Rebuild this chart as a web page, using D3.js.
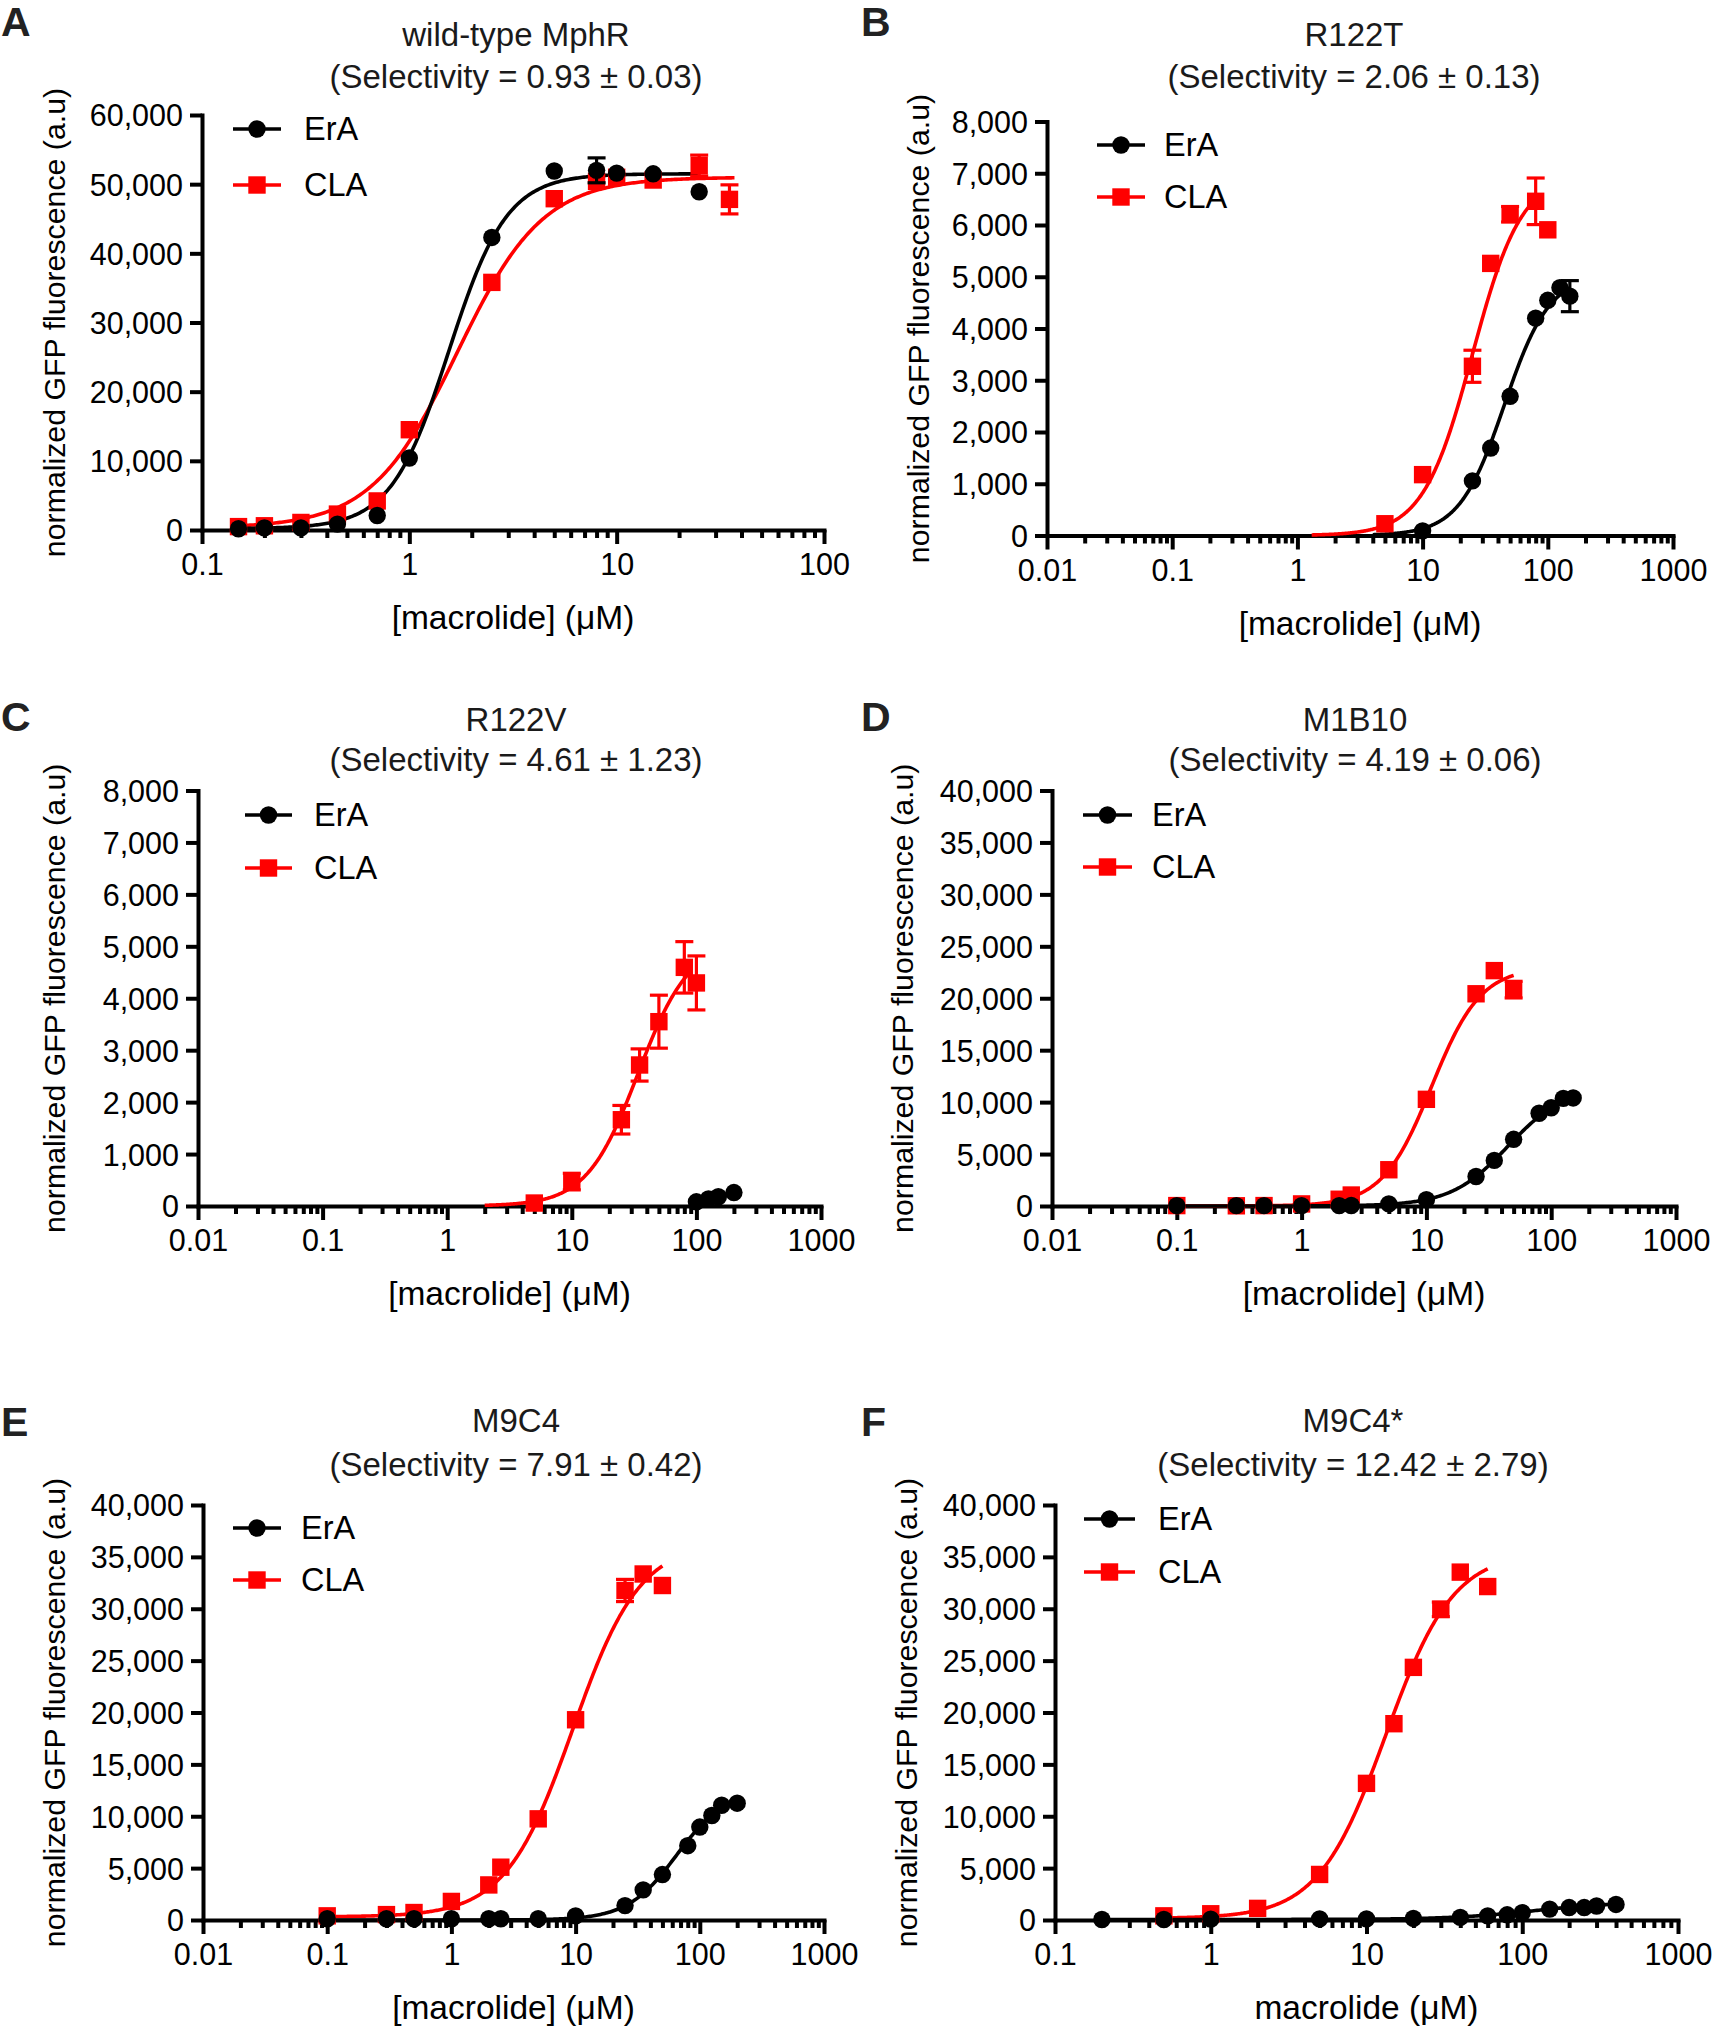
<!DOCTYPE html>
<html><head><meta charset="utf-8">
<script src="https://cdn.jsdelivr.net/npm/d3@7"></script>
<style>
body{margin:0;background:#fff}
svg text{font-family:"Liberation Sans",Arial,Helvetica,sans-serif}
</style></head><body>
<svg id="chart" width="1716" height="2029"></svg>
<script>
// ---------------- DATA ----------------
const panelLetters = ["A","B","C","D","E","F"];
const panelNames = ["wild-type MphR","R122T","R122V","M1B10","M9C4","M9C4*"];
const selectivity = ["(Selectivity = 0.93 ± 0.03)","(Selectivity = 2.06 ± 0.13)","(Selectivity = 4.61 ± 1.23)",
                     "(Selectivity = 4.19 ± 0.06)","(Selectivity = 7.91 ± 0.42)","(Selectivity = 12.42 ± 2.79)"];
const xTitles = ["[macrolide] (μM)","[macrolide] (μM)","[macrolide] (μM)","[macrolide] (μM)","[macrolide] (μM)","macrolide (μM)"];
const yTitle = "normalized GFP fluorescence (a.u)";
const seriesNames = ["ErA","CLA"];

const xTicksA = [0.1,1,10,100],        xTickLabelsA = ["0.1","1","10","100"];
const xTicks5 = [0.01,0.1,1,10,100,1000], xTickLabels5 = ["0.01","0.1","1","10","100","1000"];
const xTicksF = [0.1,1,10,100,1000],   xTickLabelsF = ["0.1","1","10","100","1000"];
const yTicks60k = [0,10000,20000,30000,40000,50000,60000];
const yTicks8k  = [0,1000,2000,3000,4000,5000,6000,7000,8000];
const yTicks40k = [0,5000,10000,15000,20000,25000,30000,35000,40000];

// Panel A – wild-type MphR
const A_ErA_x   = [0.15,0.2,0.3,0.45,0.7,1,2.5,5,8,10,15,25];
const A_ErA_y   = [180,300,300,850,2100,10400,42300,51900,52000,51600,51500,48900];
const A_ErA_err = [0,0,0,0,0,0,0,0,1800,0,0,0];
const A_CLA_x   = [0.15,0.2,0.3,0.45,0.7,1,2.5,5,8,10,15,25,35];
const A_CLA_y   = [490,610,1090,2300,4200,14500,35800,47900,50400,51000,50600,52700,47800];
const A_CLA_err = [0,0,0,0,0,0,0,0,0,0,0,1500,2100];
// fit parameters: [bottom, top, EC50, Hill slope], fit x-range
const A_ErA_fit = [200,51500,1.55,3.1],  A_ErA_range = [0.15,25];
const A_CLA_fit = [300,51000,1.7,2.1],   A_CLA_range = [0.15,37];

// Panel B – R122T
const B_ErA_x   = [10,25,35,50,80,100,125,150];
const B_ErA_y   = [90,1055,1690,2690,4200,4545,4790,4625];
const B_ErA_err = [0,0,0,0,0,0,0,300];
const B_CLA_x   = [5,10,25,35,50,80,100];
const B_CLA_y   = [227,1176,3270,5258,6207,6458,5907];
const B_CLA_err = [0,0,310,0,150,450,0];
const B_ErA_fit = [0,5050,45,2.4],  B_ErA_range = [4,150];
const B_CLA_fit = [0,7000,25,2.2],  B_CLA_range = [1.3,87];

// Panel C – R122V
const C_ErA_x   = [100,125,150,200];
const C_ErA_y   = [81,138,178,259];
const C_ErA_err = [0,0,0,0];
const C_CLA_x   = [5,10,25,35,50,80,100];
const C_CLA_y   = [57,470,1661,2715,3549,4595,4295];
const C_CLA_err = [0,160,275,310,510,495,520];
const C_ErA_fit = [0,5000,1000,1.8], C_ErA_range = [95,200];
const C_CLA_fit = [0,5100,34,2.1],   C_CLA_range = [2,90];

// Panel D – M1B10
const D_ErA_x   = [0.1,0.3,0.5,1,2,2.5,5,10,25,35,50,80,100,125,150];
const D_ErA_y   = [40,40,40,40,40,50,200,600,2840,4390,6420,8930,9460,10360,10400];
const D_ErA_err = [0,0,0,0,0,0,0,0,0,0,0,0,0,0,0];
const D_CLA_x   = [0.1,0.3,0.5,1,2,2.5,5,10,25,35,50];
const D_CLA_y   = [40,20,40,200,650,1056,3490,10270,20430,22660,20830];
const D_CLA_err = [0,0,0,0,0,0,0,0,0,0,800];
const D_ErA_fit = [0,11500,45,1.9],  D_ErA_range = [0.1,150];
const D_CLA_fit = [0,23000,11,2.2],  D_CLA_range = [0.1,50];

// Panel E – M9C4
const E_ErA_x   = [0.1,0.3,0.5,1,2,2.5,5,10,25,35,50,80,100,125,150,200];
const E_ErA_y   = [120,120,120,120,120,120,120,400,1390,2900,4380,7160,8960,10070,11060,11260];
const E_ErA_err = [0,0,0,0,0,0,0,0,0,0,0,0,0,0,0,0];
const E_CLA_x   = [0.1,0.3,0.5,1,2,2.5,5,10,25,35,50];
const E_CLA_y   = [400,520,720,1790,3380,5090,9750,19300,31760,33350,32240];
const E_CLA_err = [0,0,0,0,0,0,0,0,1070,0,0];
const E_ErA_fit = [0,12500,65,2.2],   E_ErA_range = [0.1,200];
const E_CLA_fit = [300,36500,9.5,1.6], E_CLA_range = [0.1,50];

// Panel F – M9C4*
const F_ErA_x   = [0.2,0.5,1,5,10,20,40,60,80,100,150,200,250,300,400];
const F_ErA_y   = [50,50,80,100,100,150,250,400,500,700,1050,1200,1200,1350,1500];
const F_ErA_err = [0,0,0,0,0,0,0,0,0,0,0,0,0,0,0];
const F_CLA_x   = [0.5,1,2,5,10,15,20,30,40,60];
const F_CLA_y   = [400,600,1120,4390,13170,18920,24350,29940,33530,32140];
const F_CLA_err = [0,0,0,0,0,0,0,700,0,0];
const F_ErA_fit = [50,1750,120,1.6],  F_ErA_range = [0.2,400];
const F_CLA_fit = [150,35500,13.3,2.0], F_CLA_range = [0.5,60];

// ---------------- LAYOUT ----------------
const layout = [
 {x0:202, x1:824, yT:115,   yB:530,  tc:516,  t1:46,   t2:88,   lx:1,   ly:36,   ylx:54,  legL:233, legR:281, leg1:129,  leg2:185,  tx:304},
 {x0:1047,x1:1673,yT:121.5, yB:535.5,tc:1354, t1:46,   t2:88,   lx:861, ly:36,   ylx:918, legL:1097,legR:1145,leg1:145,  leg2:197,  tx:1164},
 {x0:198, x1:821, yT:790.5, yB:1206, tc:516,  t1:731,  t2:771,  lx:1,   ly:731,  ylx:54,  legL:245, legR:292, leg1:815,  leg2:868,  tx:314},
 {x0:1052,x1:1676,yT:790.5, yB:1206, tc:1355, t1:731,  t2:771,  lx:861, ly:731,  ylx:902, legL:1083,legR:1132,leg1:815,  leg2:867,  tx:1152},
 {x0:203, x1:824, yT:1505,  yB:1920, tc:516,  t1:1432, t2:1476, lx:1,   ly:1436, ylx:54,  legL:233, legR:281, leg1:1528, leg2:1580, tx:301},
 {x0:1055,x1:1678,yT:1505,  yB:1920, tc:1353, t1:1432, t2:1476, lx:861, ly:1436, ylx:906, legL:1084,legR:1135,leg1:1519, leg2:1572, tx:1158}
];

const panelData = [
 {xd:[0.1,100],  xt:xTicksA, xl:xTickLabelsA, yt:yTicks60k,
  s:[[A_ErA_x,A_ErA_y,A_ErA_err,A_ErA_fit,A_ErA_range],[A_CLA_x,A_CLA_y,A_CLA_err,A_CLA_fit,A_CLA_range]]},
 {xd:[0.01,1000],xt:xTicks5, xl:xTickLabels5, yt:yTicks8k,
  s:[[B_ErA_x,B_ErA_y,B_ErA_err,B_ErA_fit,B_ErA_range],[B_CLA_x,B_CLA_y,B_CLA_err,B_CLA_fit,B_CLA_range]]},
 {xd:[0.01,1000],xt:xTicks5, xl:xTickLabels5, yt:yTicks8k,
  s:[[C_ErA_x,C_ErA_y,C_ErA_err,C_ErA_fit,C_ErA_range],[C_CLA_x,C_CLA_y,C_CLA_err,C_CLA_fit,C_CLA_range]]},
 {xd:[0.01,1000],xt:xTicks5, xl:xTickLabels5, yt:yTicks40k,
  s:[[D_ErA_x,D_ErA_y,D_ErA_err,D_ErA_fit,D_ErA_range],[D_CLA_x,D_CLA_y,D_CLA_err,D_CLA_fit,D_CLA_range]]},
 {xd:[0.01,1000],xt:xTicks5, xl:xTickLabels5, yt:yTicks40k,
  s:[[E_ErA_x,E_ErA_y,E_ErA_err,E_ErA_fit,E_ErA_range],[E_CLA_x,E_CLA_y,E_CLA_err,E_CLA_fit,E_CLA_range]]},
 {xd:[0.1,1000], xt:xTicksF, xl:xTickLabelsF, yt:yTicks40k,
  s:[[F_ErA_x,F_ErA_y,F_ErA_err,F_ErA_fit,F_ErA_range],[F_CLA_x,F_CLA_y,F_CLA_err,F_CLA_fit,F_CLA_range]]}
];

const colors = ["#000000","#ff0000"];
const AXW = 4, LW = 3.6;
const FS_TICK = 30.5, FS_TITLE = 33, FS_AXT = 33.5, FS_YL = 30.3, FS_LEG = 32.5, FS_LET = 41;

const svg = d3.select("#chart");
svg.append("rect").attr("width",1716).attr("height",2029).attr("fill","#fff");

function hill(p, xv){ return p[0] + (p[1]-p[0])/(1+Math.pow(p[2]/xv, p[3])); }

function marker(g, type, cx, cy, col){
  if(type===0){
    g.append("circle").attr("cx",cx).attr("cy",cy).attr("r",8.7).attr("fill",col);
  } else {
    g.append("rect").attr("x",cx-8.7).attr("y",cy-8.7).attr("width",17.4).attr("height",17.4).attr("fill",col);
  }
}

panelData.forEach((P,i)=>{
  const L = layout[i];
  const g = svg.append("g");
  const x = d3.scaleLog().domain(P.xd).range([L.x0,L.x1]);
  const yMax = P.yt[P.yt.length-1];
  const y = d3.scaleLinear().domain([0,yMax]).range([L.yB,L.yT]);

  // minor ticks
  const minor = [];
  P.xt.forEach((t,k)=>{ if(k<P.xt.length-1) for(let m=2;m<=9;m++) minor.push(t*m); });

  const gxm = g.append("g").attr("transform",`translate(0,${L.yB})`)
    .call(d3.axisBottom(x).tickValues(minor).tickSize(8).tickSizeOuter(0).tickFormat(""));
  gxm.select(".domain").remove();
  gxm.selectAll("line").attr("stroke","#000").attr("stroke-width",AXW);

  const gx = g.append("g").attr("transform",`translate(0,${L.yB})`)
    .call(d3.axisBottom(x).tickValues(P.xt).tickSize(14).tickSizeOuter(0).tickFormat((d,k)=>P.xl[k]));
  gx.select(".domain").attr("stroke","#000").attr("stroke-width",AXW).attr("stroke-linecap","square");
  gx.selectAll("line").attr("stroke","#000").attr("stroke-width",AXW);
  gx.selectAll("text").attr("y",45).attr("dy",null).attr("font-size",FS_TICK)
    .attr("font-family","Liberation Sans, Arial, sans-serif").attr("fill","#000");

  const gy = g.append("g").attr("transform",`translate(${L.x0},0)`)
    .call(d3.axisLeft(y).tickValues(P.yt).tickSize(12).tickSizeOuter(0).tickPadding(7).tickFormat(d3.format(",")));
  gy.select(".domain").attr("stroke","#000").attr("stroke-width",AXW).attr("stroke-linecap","square");
  gy.selectAll("line").attr("stroke","#000").attr("stroke-width",AXW);
  gy.selectAll("text").attr("dy","0.36em").attr("font-size",FS_TICK)
    .attr("font-family","Liberation Sans, Arial, sans-serif").attr("fill","#000");

  // titles
  const cx = (L.x0+L.x1)/2;
  g.append("text").attr("x",L.tc).attr("y",L.t1).attr("text-anchor","middle").attr("font-size",FS_TITLE).attr("fill","#1a1a1a").text(panelNames[i]);
  g.append("text").attr("x",L.tc).attr("y",L.t2).attr("text-anchor","middle").attr("font-size",FS_TITLE).attr("fill","#1a1a1a").text(selectivity[i]);
  g.append("text").attr("x",L.lx).attr("y",L.ly).attr("font-size",FS_LET).attr("font-weight","bold").attr("fill","#222").text(panelLetters[i]);

  // axis titles
  g.append("text").attr("x",cx).attr("y",L.yB+99).attr("text-anchor","middle").attr("font-size",FS_AXT).attr("fill","#000").text(xTitles[i]);
  g.append("text").attr("transform",`translate(${L.ylx},${(L.yT+L.yB)/2}) rotate(-90)`)
    .attr("text-anchor","middle").attr("dominant-baseline","central").attr("font-size",FS_YL).attr("fill","#000").text(yTitle);

  // fitted curves: CLA first, ErA on top
  [1,0].forEach(si=>{
    const [xs,ys,es,fit,rng] = P.s[si];
    const col = colors[si];
    const lx = d3.scaleLog().domain(rng).range([0,1]);
    const pts = d3.range(0,301).map(k=>{ const xv = lx.invert(k/300); return [xv, hill(fit,xv)]; });
    g.append("path").attr("d", d3.line().x(d=>x(d[0])).y(d=>y(d[1]))(pts))
      .attr("fill","none").attr("stroke",col).attr("stroke-width",LW);
  });
  // data points with error bars
  [1,0].forEach(si=>{
    const [xs,ys,es] = P.s[si];
    const col = colors[si];
    xs.forEach((xv,k)=>{
      const e = es[k];
      if(e>0){
        const px = x(xv), ytop = y(ys[k]+e), ybot = y(ys[k]-e);
        g.append("line").attr("x1",px).attr("x2",px).attr("y1",ytop).attr("y2",ybot).attr("stroke",col).attr("stroke-width",3.2);
        g.append("line").attr("x1",px-9).attr("x2",px+9).attr("y1",ytop).attr("y2",ytop).attr("stroke",col).attr("stroke-width",3.2);
        g.append("line").attr("x1",px-9).attr("x2",px+9).attr("y1",ybot).attr("y2",ybot).attr("stroke",col).attr("stroke-width",3.2);
      }
      marker(g, si, x(xv), y(ys[k]), col);
    });
  });

  // legend
  [L.leg1, L.leg2].forEach((ly,si)=>{
    g.append("line").attr("x1",L.legL).attr("x2",L.legR).attr("y1",ly).attr("y2",ly).attr("stroke",colors[si]).attr("stroke-width",LW);
    marker(g, si, (L.legL+L.legR)/2, ly, colors[si]);
    g.append("text").attr("x",L.tx).attr("y",ly).attr("dominant-baseline","central").attr("font-size",FS_LEG).attr("fill","#000").text(seriesNames[si]);
  });
});
</script>
</body></html>
